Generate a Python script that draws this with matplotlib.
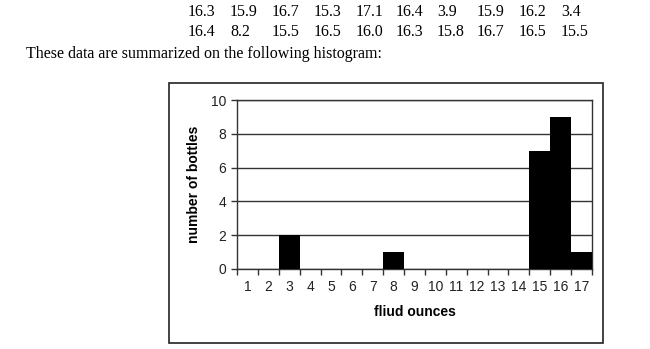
import matplotlib
matplotlib.use("Agg")
import matplotlib.pyplot as plt
from matplotlib.patches import Rectangle

# data rows printed above the chart
row1 = ["16.3", "15.9", "16.7", "15.3", "17.1", "16.4", "3.9", "15.9", "16.2", "3.4"]
row2 = ["16.4", "8.2", "15.5", "16.5", "16.0", "16.3", "15.8", "16.7", "16.5", "15.5"]
caption = "These data are summarized on the following histogram:"

# histogram
ounces = list(range(1, 18))
bottles = [0, 0, 2, 0, 0, 0, 0, 1, 0, 0, 0, 0, 0, 0, 7, 9, 1]
y_ticks = [0, 2, 4, 6, 8, 10]

W, H = 650, 349


def fx(x):
    return x / W


def fy(y):
    return 1 - y / H


fig = plt.figure(figsize=(W / 100, H / 100), dpi=100)

# text on top
col_x = [188, 230, 272, 314, 356, 396, 437, 477, 519, 561]
serif = "Liberation Serif"
for x, a, b in zip(col_x, row1, row2):
    fig.text(fx(x), fy(12), a, family=serif, fontsize=11.5, va="center", ha="left")
    fig.text(fx(x), fy(32), b, family=serif, fontsize=11.5, va="center", ha="left")
fig.text(fx(26), fy(54), caption, family=serif, fontsize=11.5, va="center", ha="left")

# frame around the chart
fig.patches.append(Rectangle((fx(169), fy(343)), fx(603 - 169), (343 - 83) / H,
                             transform=fig.transFigure, fill=False,
                             edgecolor="#222222", linewidth=1.2))

ax = fig.add_axes([fx(237), fy(269), fx(592 - 237), (269 - 100) / H])
ax.bar(ounces, bottles, width=1.0, color="black", zorder=3)
ax.set_xlim(0.5, 17.5)
ax.set_ylim(0, 10)

ax.set_yticks(y_ticks)
ax.yaxis.grid(True, color="#333333", linewidth=1.0, zorder=0)
ax.set_axisbelow(True)

# boundary ticks (major, unlabeled) + centered labels (minor)
ax.set_xticks([i + 0.5 for i in range(0, 18)])
ax.set_xticklabels([])
ax.set_xticks(ounces, minor=True)
ax.set_xticklabels([str(o) for o in ounces], minor=True)
ax.tick_params(axis="x", which="major", direction="out", length=4, width=1, color="#333333")
ax.tick_params(axis="x", which="minor", length=0, pad=8, labelsize=10, labelcolor="#222222")
ax.tick_params(axis="y", direction="out", length=4, width=1, color="#333333",
               labelsize=10, labelcolor="#222222", pad=4)
for lab in ax.get_xticklabels(minor=True) + ax.get_yticklabels():
    lab.set_family("Liberation Sans")

for s in ax.spines.values():
    s.set_color("#333333")
    s.set_linewidth(1.0)

ax.set_xlabel("fliud ounces", family="Liberation Sans", fontweight="bold",
              fontsize=10, labelpad=8)
ax.set_ylabel("number of bottles", family="Liberation Sans", fontweight="bold",
              fontsize=10, labelpad=7)

fig.savefig("out.png", dpi=100)
